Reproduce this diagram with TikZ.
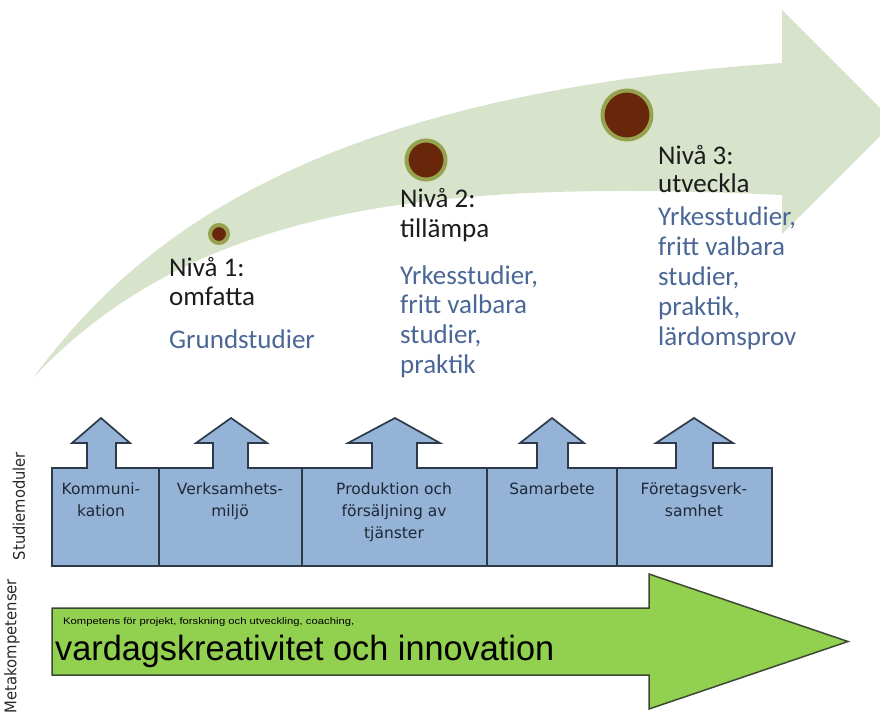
\documentclass[tikz,border=0pt]{standalone}
\usepackage{fontspec}
\setmainfont{Carlito}
\newfontfamily\boxfont{DejaVu Sans}
\newfontfamily\arialfont{Liberation Sans}
\definecolor{curvegreen}{RGB}{216,227,203}
\definecolor{dotbrown}{RGB}{104,38,10}
\definecolor{halo}{RGB}{150,162,78}
\definecolor{nivablack}{RGB}{28,28,28}
\definecolor{nivablue}{RGB}{74,103,150}
\definecolor{modfill}{RGB}{149,179,215}
\definecolor{modline}{RGB}{45,58,74}
\definecolor{modtext}{RGB}{30,40,55}
\definecolor{metagreen}{RGB}{146,208,80}
\definecolor{metaline}{RGB}{60,72,50}
\definecolor{sidetext}{RGB}{40,40,40}
\begin{document}
\begin{tikzpicture}[x=1pt,y=-1pt,
  nivahead/.style={anchor=base west, inner sep=0pt, text=nivablack},
  nivabody/.style={anchor=base west, inner sep=0pt, text=nivablue},
  dotnode/.style={circle, inner sep=0pt, fill=dotbrown, draw=halo, line width=4pt},
  modlabel/.style={anchor=base, inner sep=0pt, text=modtext, font=\boxfont\fontsize{15.5}{22}\selectfont},
  sidelabel/.style={rotate=90, inner sep=0pt, text=sidetext, font=\boxfont\fontsize{16}{18}\selectfont},
  metatext/.style={anchor=base west, inner sep=0pt, text=black}
]
\useasboundingbox (0,0) rectangle (880,713);
\clip (0,0) rectangle (880,713);

% curved light green arrow
\fill[curvegreen] (33,378) .. controls (135,240) and (310,95) .. (782,63)
  -- (782,10) -- (894,122) -- (782,234) -- (782,195)
  .. controls (450,180) and (200,200) .. (33,378) -- cycle;

% level dots
\node[dotnode, minimum size=18pt] (dot1) at (219,234) {};
\node[dotnode, minimum size=39pt] (dot2) at (426,160) {};
\node[dotnode, minimum size=49pt] (dot3) at (627,115) {};

% level texts
\node[nivahead, font=\fontsize{27}{29}\selectfont] (n1h) at (169,276)
  {\begin{tabular}[t]{@{}l@{}}Nivå 1:\\omfatta\end{tabular}};
\node[nivabody, font=\fontsize{27}{30}\selectfont] (n1b) at (169,348)
  {Grundstudier};
\node[nivahead, font=\fontsize{27}{30}\selectfont] (n2h) at (400,207)
  {\begin{tabular}[t]{@{}l@{}}Nivå 2:\\tillämpa\end{tabular}};
\node[nivabody, font=\fontsize{27}{29.7}\selectfont] (n2b) at (400,284)
  {\begin{tabular}[t]{@{}l@{}}Yrkesstudier,\\fritt valbara\\studier,\\praktik\end{tabular}};
\node[nivahead, font=\fontsize{27}{28}\selectfont] (n3h) at (658,164)
  {\begin{tabular}[t]{@{}l@{}}Nivå 3:\\utveckla\end{tabular}};
\node[nivabody, font=\fontsize{27}{30.2}\selectfont] (n3b) at (658,225)
  {\begin{tabular}[t]{@{}l@{}}Yrkesstudier,\\fritt valbara\\studier,\\praktik,\\lärdomsprov\end{tabular}};

% study modules block with up arrows
\filldraw[fill=modfill, draw=modline, line width=1.7pt, line join=miter]
  (52,566) -- (52,468)
  -- (87,468) -- (87,443) -- (72,443) -- (101,418) -- (130,443) -- (116,443) -- (116,468)
  -- (213,468) -- (213,443) -- (196,443) -- (231,418) -- (267,443) -- (248,443) -- (248,468)
  -- (372,468) -- (372,443) -- (348,443) -- (395,418) -- (440,443) -- (417,443) -- (417,468)
  -- (537,468) -- (537,443) -- (520,443) -- (552,418) -- (584,443) -- (568,443) -- (568,468)
  -- (676,468) -- (676,443) -- (656,443) -- (694,418) -- (733,443) -- (713,443) -- (713,468)
  -- (772,468) -- (772,566) -- cycle;
\foreach \dx in {159,302,487,617}
  \draw[modline, line width=1.7pt] (\dx,468) -- (\dx,566);

\node[modlabel] (m1) at (101,494) {\begin{tabular}[t]{@{}c@{}}Kommuni-\\kation\end{tabular}};
\node[modlabel] (m2) at (230,494) {\begin{tabular}[t]{@{}c@{}}Verksamhets-\\miljö\end{tabular}};
\node[modlabel] (m3) at (394,494) {\begin{tabular}[t]{@{}c@{}}Produktion och\\försäljning av\\tjänster\end{tabular}};
\node[modlabel] (m4) at (552,494) {Samarbete};
\node[modlabel] (m5) at (694,494) {\begin{tabular}[t]{@{}c@{}}Företagsverk-\\samhet\end{tabular}};

% side labels
\node[sidelabel] (s1) at (19,506) {\resizebox{108pt}{\height}{Studiemoduler}};
\node[sidelabel] (s2) at (12,646) {\resizebox{134pt}{\height}{Metakompetenser}};

% meta competence arrow
\filldraw[fill=metagreen, draw=metaline, line width=1.5pt, line join=miter]
  (52,608) -- (649,608) -- (649,574) -- (848,641.5) -- (649,709) -- (649,675) -- (52,675) -- cycle;
\node[metatext] (k1) at (63,624)
  {\resizebox{291pt}{\height}{\arialfont\fontsize{9.5}{10}\selectfont Kompetens för projekt, forskning och utveckling, coaching,}};
\node[metatext] (k2) at (55,660)
  {\resizebox{499pt}{\height}{\arialfont\fontsize{35}{40}\selectfont vardagskreativitet och innovation}};
\end{tikzpicture}
\end{document}
